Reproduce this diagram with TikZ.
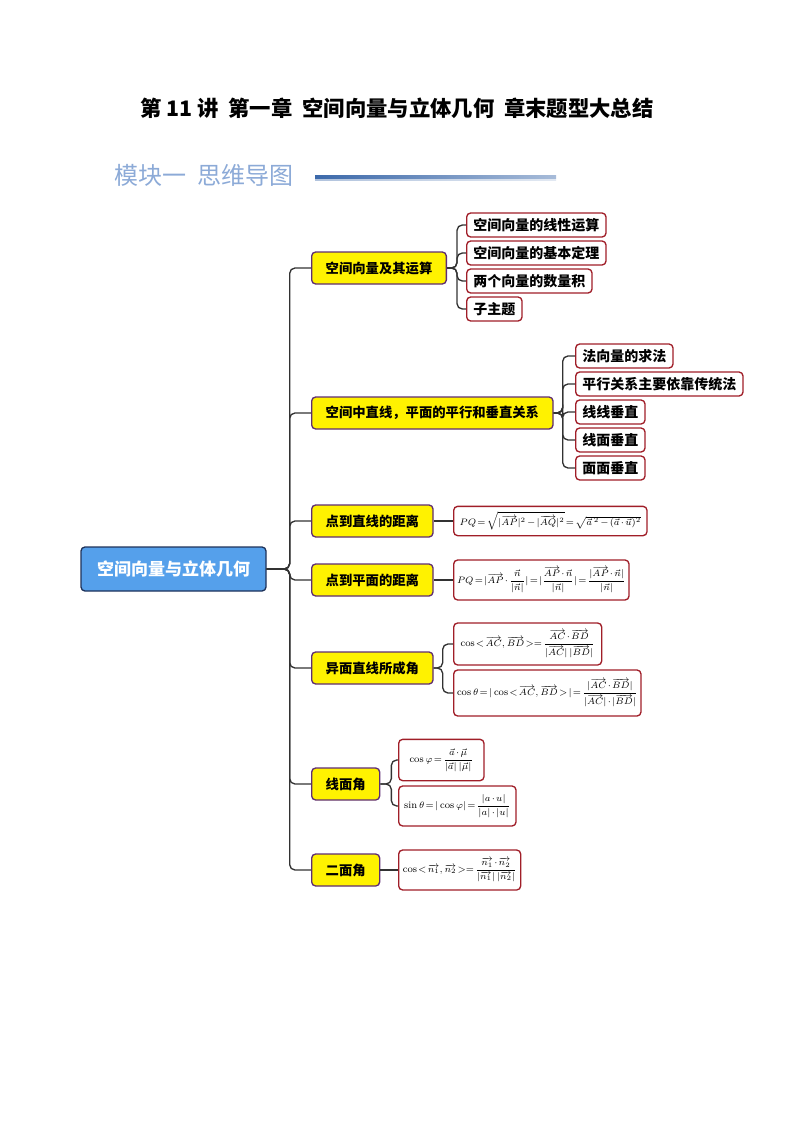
\documentclass[tikz,border=0pt]{standalone}
\usepackage{amsmath}
\usepackage{fontspec}
\newfontfamily\cjk{Noto Sans CJK SC}
\usetikzlibrary{positioning}
\definecolor{rootblue}{RGB}{85,160,235}
\definecolor{rootline}{RGB}{30,50,90}
\definecolor{branchline}{RGB}{95,45,115}
\definecolor{leafline}{RGB}{160,30,40}
\definecolor{linkgray}{RGB}{50,50,50}
\definecolor{headblue}{RGB}{140,170,215}
\definecolor{headline}{RGB}{60,105,170}
\newcommand\formsize{\fontsize{7.5}{9}\selectfont\thickmuskip=2mu\relax\medmuskip=2mu\relax}
\tikzset{
	rootbox/.style={
		draw=rootline, fill=rootblue, text=white, line width=1pt,
		rounded corners=3pt, minimum width=138.75pt, minimum height=33pt,
		font=\cjk\bfseries\fontsize{12.75}{15}\selectfont
	},
	branchbox/.style={
		draw=branchline, fill=yellow, line width=1pt, anchor=west,
		rounded corners=3pt, inner xsep=10.5pt, minimum height=24pt,
		font=\cjk\bfseries\fontsize{10}{12}\selectfont
	},
	leafbox/.style={
		draw=leafline, fill=white, line width=1pt, anchor=west,
		rounded corners=3pt, inner xsep=5pt, minimum height=18pt,
		font=\cjk\bfseries\fontsize{10.5}{12}\selectfont
	},
	formbox/.style={
		draw=leafline, fill=white, line width=1pt, anchor=west,
		rounded corners=3pt, inner xsep=2.5pt, inner ysep=1pt, font=\formsize
	},
	link/.style={
		draw=linkgray, line width=1pt, rounded corners=4pt
	}
}
\begin{document}
\begin{tikzpicture}[x=0.75pt, y=-0.75pt, font=\cjk]
\useasboundingbox (0,0) rectangle (794,1123);

% heading
\node[font=\cjk\bfseries\fontsize{16}{19}\selectfont] (title) at (397,108) {第 11 讲\ \ 第一章\ \ 空间向量与立体几何\ \ 章末题型大总结};
\node[anchor=west, text=headblue, font=\cjk\fontsize{18}{21}\selectfont] (module) at (110,175) {模块一\ \ 思维导图};
\shade[left color=headline, right color=headline!45] (315,176) rectangle (556,178.5);
\shade[left color=headline!40, right color=headline!15] (315,179.5) rectangle (556,180.5);

% root and branches
\node[rootbox] (root) at (173.5,569) {空间向量与立体几何};

\node[branchbox] (B1) at (311,268) {空间向量及其运算};
\node[branchbox] (B2) at (311,413) {空间中直线，平面的平行和垂直关系};
\node[branchbox] (B3) at (311,521) {点到直线的距离};
\node[branchbox] (B4) at (311,580) {点到平面的距离};
\node[branchbox] (B5) at (311,668) {异面直线所成角};
\node[branchbox] (B6) at (311,784) {线面角};
\node[branchbox] (B7) at (311,870) {二面角};
\foreach \b in {B1,B2,B3,B4,B5,B6,B7} {
	\draw[link] (root.east) -- ++(23,0) |- (\b.west);
}

% leaves
\foreach \t [count=\i] in {空间向量的线性运算, 空间向量的基本定理, 两个向量的数量积, 子主题} {
	\node[leafbox] (L1\i) at (466,{197+28*\i}) {\t};
	\draw[link] (B1.east) -- ++(10,0) |- (L1\i.west);
}
\foreach \t [count=\i] in {法向量的求法, 平行关系主要依靠传统法, 线线垂直, 线面垂直, 面面垂直} {
	\node[leafbox] (L2\i) at (575,{328+28*\i}) {\t};
	\draw[link] (B2.east) -- ++(9,0) |- (L2\i.west);
}

% formulas
\node[formbox, minimum width=145pt, minimum height=22pt] (F3) at (453,521)
	{$PQ=\sqrt{|\overrightarrow{AP}|^2-|\overrightarrow{AQ}|^2}=\sqrt{\vec{a}^{\,2}-(\vec{a}\cdot\vec{u})^2}$};
\node[formbox, minimum width=130.5pt, minimum height=30pt] (F4) at (453,580)
	{$PQ=|\overrightarrow{AP}\cdot\dfrac{\vec{n}}{|\vec{n}|}|=|\dfrac{\overrightarrow{AP}\cdot\vec{n}}{|\vec{n}|}|=\dfrac{|\overrightarrow{AP}\cdot\vec{n}|}{|\vec{n}|}$};
\node[formbox, minimum width=111pt, minimum height=31.5pt] (F5a) at (453,644)
	{$\cos<\overrightarrow{AC},\overrightarrow{BD}>=\dfrac{\overrightarrow{AC}\cdot\overrightarrow{BD}}{|\overrightarrow{AC}|\,|\overrightarrow{BD}|}$};
\node[formbox, minimum width=136pt, minimum height=34.5pt] (F5b) at (453,693)
	{$\cos\theta=|\cos<\overrightarrow{AC},\overrightarrow{BD}>|=\dfrac{|\overrightarrow{AC}\cdot\overrightarrow{BD}|}{|\overrightarrow{AC}|\cdot|\overrightarrow{BD}|}$};
\node[formbox, minimum width=64pt, minimum height=31pt] (F6a) at (398,760)
	{$\cos\varphi=\dfrac{\vec{a}\cdot\vec{\mu}}{|\vec{a}|\,|\vec{\mu}|}$};
\node[formbox, minimum width=88pt, minimum height=30pt] (F6b) at (398,806)
	{$\sin\theta=|\cos\varphi|=\dfrac{|a\cdot u|}{|a|\cdot|u|}$};
\node[formbox, minimum width=91.5pt, minimum height=30pt] (F7) at (398,870)
	{$\cos<\overrightarrow{n_1},\overrightarrow{n_2}>=\dfrac{\overrightarrow{n_1}\cdot\overrightarrow{n_2}}{|\overrightarrow{n_1}|\,|\overrightarrow{n_2}|}$};

\draw[link] (B3.east) -- (F3.west);
\draw[link] (B4.east) -- (F4.west);
\draw[link] (B5.east) -- ++(9,0) |- (F5a.west);
\draw[link] (B5.east) -- ++(9,0) |- (F5b.west);
\draw[link] (B6.east) -- ++(11,0) |- (F6a.west);
\draw[link] (B6.east) -- ++(11,0) |- (F6b.west);
\draw[link] (B7.east) -- (F7.west);
\end{tikzpicture}
\end{document}
